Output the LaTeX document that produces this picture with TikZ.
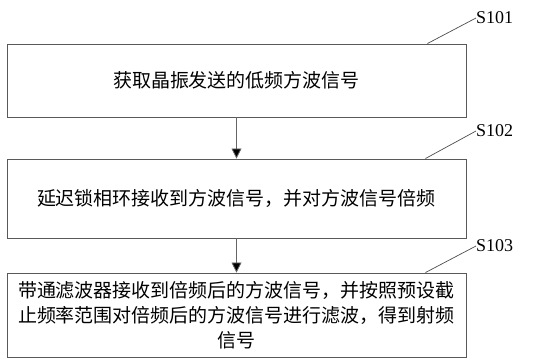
\documentclass[tikz,border=0pt]{standalone}
\usepackage{fontspec}
\setmainfont{Liberation Serif}
\newfontfamily\cjk{Noto Sans CJK SC}
\usetikzlibrary{arrows.meta, calc, positioning}

\begin{document}
\begin{tikzpicture}[x=1pt, y=-1pt,
  stepbox/.style={draw=black!65, line width=0.9pt, minimum width=459pt, inner sep=0pt,
    align=center, font=\cjk\fontsize{19}{25}\selectfont},
  flow/.style={draw=black!60, line width=0.8pt, -{Triangle[length=10pt, width=10pt, fill=black]}},
  lead/.style={draw=black!70, line width=0.7pt},
  tag/.style={anchor=west, inner sep=0pt, font=\fontsize{18}{18}\selectfont}]
  \useasboundingbox (0,0) rectangle (555,363);
  % steps
  \node[stepbox, minimum height=73pt] (b1) at (236.5,80.5) {获取晶振发送的低频方波信号};
  \node[stepbox, minimum height=79pt] (b2) at (236.5,198.5) {延迟锁相环接收到方波信号，并对方波信号倍频};
  \node[stepbox, minimum height=84pt] (b3) at (236.5,315) {带通滤波器接收到倍频后的方波信号，并按照预设截\\止频率范围对倍频后的方波信号进行滤波，得到射频\\信号};
  % arrows
  \draw[flow] (b1.south) -- (b2.north);
  \draw[flow] (b2.south) -- (b3.north);
  % step labels
  \node[tag] (s1) at (476,18) {S101};
  \node[tag] (s2) at (476,131) {S102};
  \node[tag] (s3) at (476,246) {S103};
  \draw[lead] ($(b1.north east)+(-39,0)$) -- (s1.west);
  \draw[lead] ($(b2.north east)+(-41,0)$) -- (s2.west);
  \draw[lead] ($(b3.north east)+(-41,0)$) -- (s3.west);
\end{tikzpicture}
\end{document}
